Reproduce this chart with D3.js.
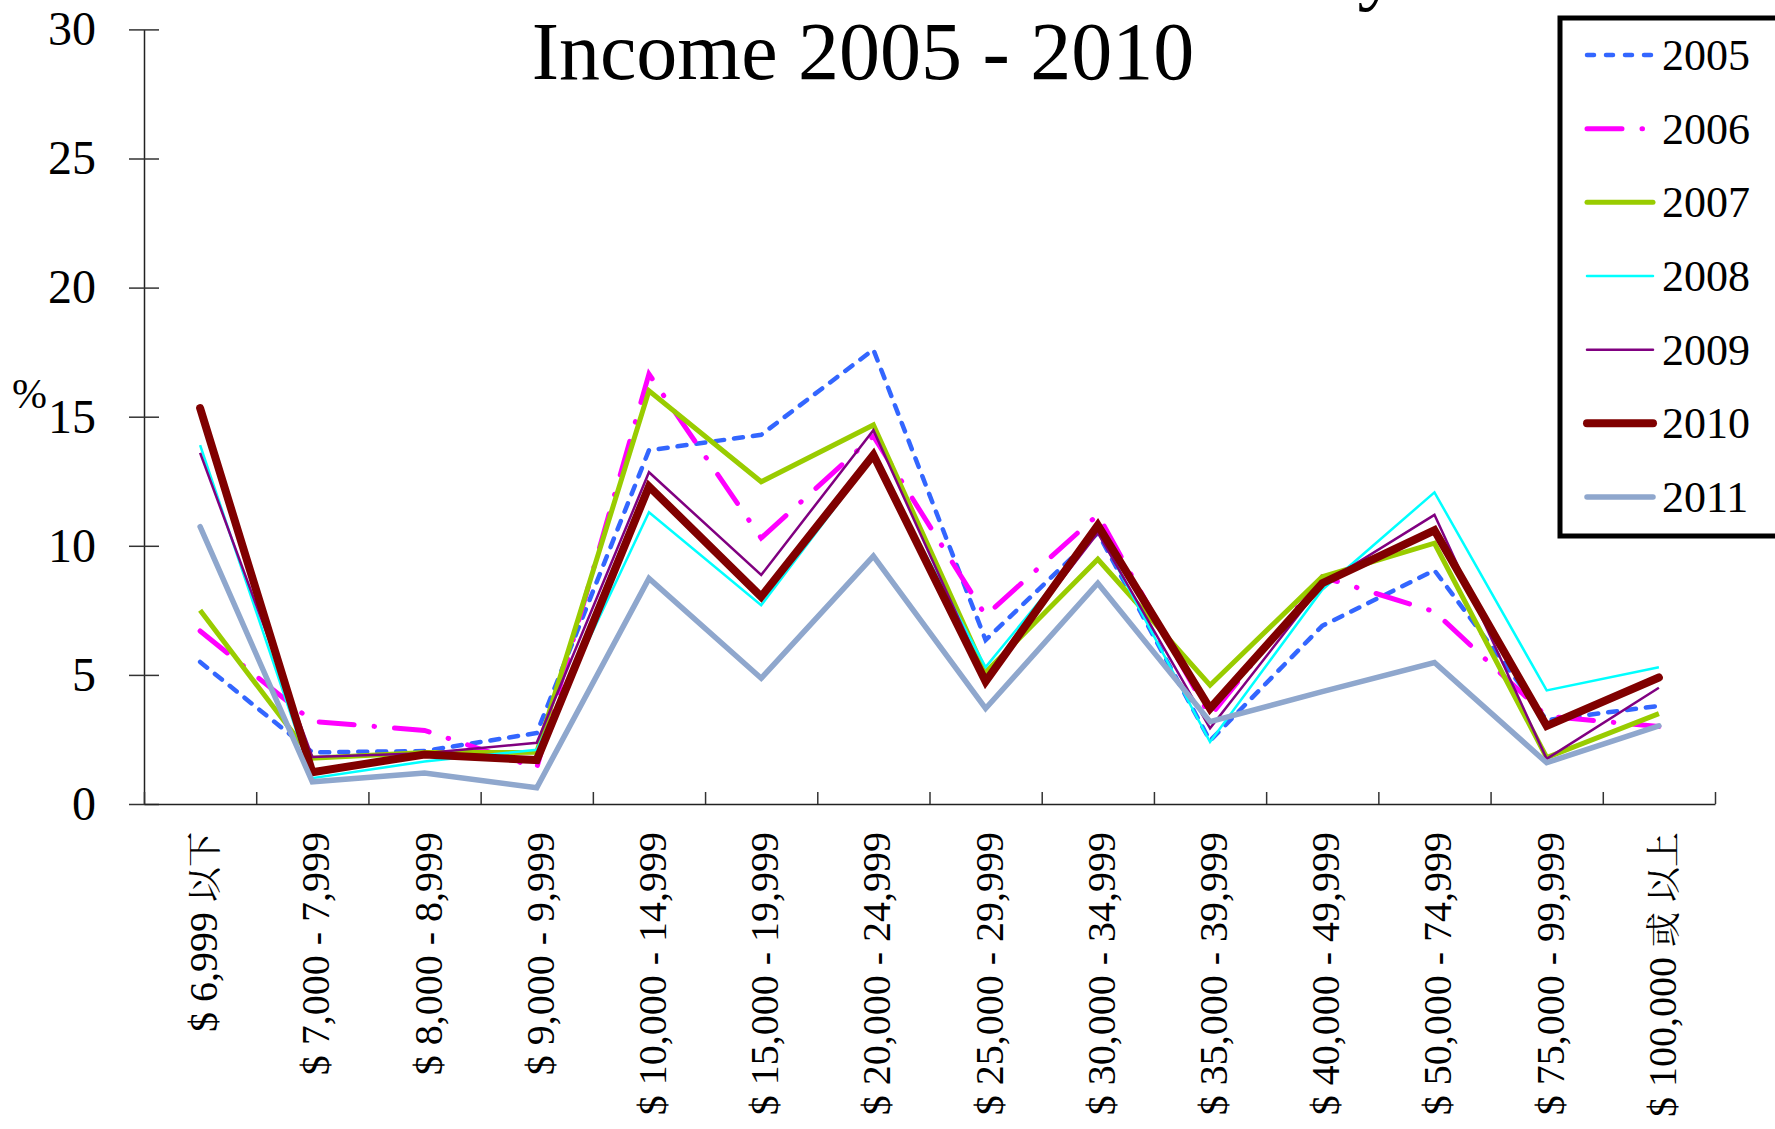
<!DOCTYPE html>
<html><head><meta charset="utf-8">
<script src="https://cdn.jsdelivr.net/npm/d3@7"></script>
<style>
body{margin:0;background:#fff}
svg{display:block;background:#fff}
text{font-family:"Liberation Serif","Noto Serif CJK TC","Noto Sans CJK TC",serif;fill:#000}
</style>
</head><body>
<svg id="c" width="1775" height="1129"></svg>
<script>
// ---- data ----
const categories = ["$ 6,999 以下", "$ 7,000 - 7,999", "$ 8,000 - 8,999", "$ 9,000 - 9,999",
  "$ 10,000 - 14,999", "$ 15,000 - 19,999", "$ 20,000 - 24,999", "$ 25,000 - 29,999",
  "$ 30,000 - 34,999", "$ 35,000 - 39,999", "$ 40,000 - 49,999", "$ 50,000 - 74,999",
  "$ 75,000 - 99,999", "$ 100,000 或 以上"];
const seriesNames = ["2005", "2006", "2007", "2008", "2009", "2010", "2011"];
const s2005 = [5.5, 2.0, 2.05, 2.75, 13.7, 14.3, 17.6, 6.35, 10.5, 2.45, 6.9, 9.05, 3.25, 3.8];
const s2006 = [6.7, 3.2, 2.85, 1.4, 16.65, 10.3, 14.25, 7.3, 11.2, 3.4, 8.8, 7.45, 3.4, 3.0];
const s2007 = [7.5, 1.77, 1.99, 2.0, 16.0, 12.48, 14.68, 5.1, 9.48, 4.6, 8.8, 10.1, 1.8, 3.5];
const s2008 = [13.9, 1.0, 1.65, 2.1, 11.3, 7.7, 13.45, 5.3, 10.6, 2.4, 8.3, 12.07, 4.4, 5.3];
const s2009 = [13.6, 1.82, 1.97, 2.37, 12.85, 8.87, 14.48, 4.88, 10.5, 2.93, 8.5, 11.2, 1.75, 4.5];
const s2010 = [15.33, 1.23, 1.92, 1.7, 12.3, 8.03, 13.52, 4.74, 10.8, 3.7, 8.55, 10.6, 3.02, 4.9];
const s2011 = [10.74, 0.86, 1.2, 0.63, 8.74, 4.87, 9.6, 3.7, 8.55, 3.19, 4.35, 5.48, 1.6, 3.03];
const yTicks = [0, 5, 10, 15, 20, 25, 30];
const titleText = "Income 2005 - 2010";
const yLabel = "%";

// ---- styles ----
const styles = {
  "2005": {color: "#3366FF", width: 4.5, dash: "9,10", cap: "round"},
  "2006": {color: "#FF00FF", width: 5, dash: "35,20,0.5,20", cap: "round"},
  "2007": {color: "#99CC00", width: 5, dash: null, cap: "butt"},
  "2008": {color: "#00FFFF", width: 2.5, dash: null, cap: "butt"},
  "2009": {color: "#800080", width: 2.5, dash: null, cap: "butt"},
  "2010": {color: "#800000", width: 8, dash: null, cap: "round"},
  "2011": {color: "#8FA7CD", width: 5.5, dash: null, cap: "round"}
};
const seriesValues = [s2005, s2006, s2007, s2008, s2009, s2010, s2011];
const series = seriesNames.map((n, i) => ({name: n, values: seriesValues[i]}));

const svg = d3.select("#c");
const mLeft = 144, mRight = 1715, mTop = 29.4, mBottom = 804;

const x = d3.scaleBand().domain(categories).range([mLeft, mRight]).padding(0);
const xEdge = d3.scaleLinear().domain([0, categories.length]).range([mLeft, mRight]);
const y = d3.scaleLinear().domain([0, 30]).range([mBottom, mTop]);

// title
svg.append("text").attr("x", 863).attr("y", 79).attr("text-anchor", "middle")
  .style("font-size", "82px").text(titleText);
// clipped fragment of a line above the title
svg.append("text").attr("x", 1378).attr("y", -6).attr("text-anchor", "middle")
  .style("font-size", "82px").text("y");

// y axis
const yAxis = svg.append("g").attr("transform", `translate(${mLeft},0)`)
  .call(d3.axisLeft(y).tickValues(yTicks).tickSizeInner(15).tickSizeOuter(0).tickPadding(33));
yAxis.attr("font-family", null).attr("font-size", null);
yAxis.select(".domain").attr("stroke", "#222").attr("stroke-width", 1.5);
yAxis.selectAll(".tick line").attr("x1", 15).attr("stroke", "#333").attr("stroke-width", 1.5);
yAxis.selectAll(".tick text").style("font-size", "48px");

// x axis
const xAxis = svg.append("g").attr("transform", `translate(0,${mBottom})`)
  .call(d3.axisBottom(xEdge).tickValues(d3.range(categories.length + 1)).tickSizeInner(-12).tickSizeOuter(0).tickFormat(""));
xAxis.select(".domain").attr("stroke", "#222").attr("stroke-width", 1.5);
xAxis.selectAll(".tick line").attr("stroke", "#333").attr("stroke-width", 1.5);

// x labels (CJK parts slightly smaller so long labels fit)
const xl = svg.append("g").selectAll("text").data(categories).join("text")
  .attr("transform", d => `translate(${x(d) + x.bandwidth() / 2 + 3},832) rotate(-90)`)
  .attr("text-anchor", "end").attr("dy", "0.35em")
  .style("font-size", "40px");
xl.each(function(d) {
  const parts = d.split(/([\u4e00-\u9fff]+)/).filter(p => p.length);
  const t = d3.select(this);
  parts.forEach(p => {
    const ts = t.append("tspan").text(p);
    if (/[\u4e00-\u9fff]/.test(p)) ts.style("font-size", "35px");
  });
});

// y label
svg.append("text").attr("x", 12).attr("y", 408).style("font-size", "42px").text(yLabel);

// lines
const line = d3.line()
  .x((d, i) => x(categories[i]) + x.bandwidth() / 2)
  .y(d => y(d));
svg.append("g").selectAll("path").data(series).join("path")
  .attr("d", d => line(d.values))
  .attr("fill", "none")
  .attr("stroke", d => styles[d.name].color)
  .attr("stroke-width", d => styles[d.name].width)
  .attr("stroke-dasharray", d => styles[d.name].dash)
  .attr("stroke-linecap", d => styles[d.name].cap)
  .attr("stroke-linejoin", "miter");

// legend
const lg = svg.append("g");
lg.append("rect").attr("x", 1560).attr("y", 18).attr("width", 300).attr("height", 518)
  .attr("fill", "#fff").attr("stroke", "#000").attr("stroke-width", 5);
const ly = d3.scalePoint().domain(seriesNames).range([55, 497]);
const items = lg.selectAll("g.item").data(series).join("g").attr("class", "item")
  .attr("transform", d => `translate(0,${ly(d.name)})`);
items.append("line").attr("x1", 1587).attr("x2", 1653).attr("y1", 0).attr("y2", 0)
  .attr("stroke", d => styles[d.name].color)
  .attr("stroke-width", d => styles[d.name].width)
  .attr("stroke-dasharray", d => d.name === "2005" ? "7,12" : styles[d.name].dash)
  .attr("stroke-linecap", "round");
items.append("text").attr("x", 1662).attr("y", 0).attr("dy", "0.34em")
  .style("font-size", "44px").text(d => d.name);
</script>
</body></html>
